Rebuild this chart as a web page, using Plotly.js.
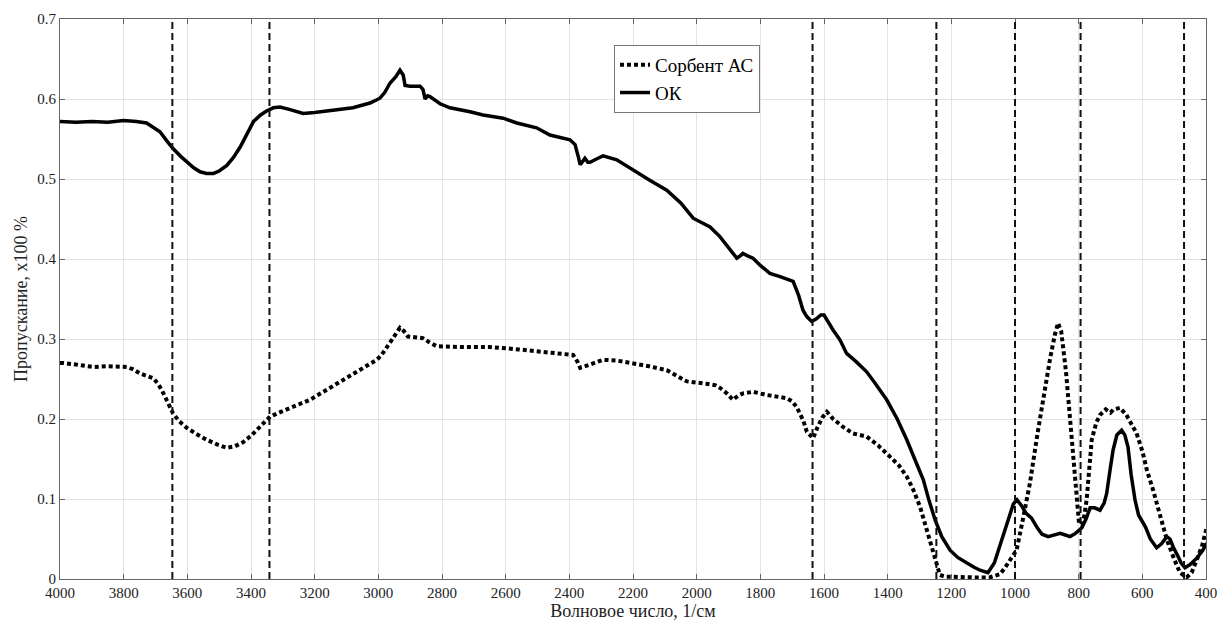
<!DOCTYPE html>
<html>
<head>
<meta charset="utf-8">
<script src="https://cdn.plot.ly/plotly-3.0.1.min.js"></script>
<style>html,body{margin:0;padding:0;background:#fff;}#chart{width:1219px;height:626px;}</style>
</head>
<body>
<div id="chart"></div>
<script>
// Wavenumbers (1/cm) and transmittance for "ОК"
const wnOK = [4000,3950,3900,3850,3800,3760,3728,3700,3686,3665,3645,3620,3602,3580,3560,3540,3518,3500,3476,3455,3434,3410,3392,3370,3351,3330,3309,3280,3250,3236,3200,3131,3080,3026,2995,2980,2963,2945,2932,2922,2916,2900,2869,2860,2853,2845,2838,2806,2775,2712,2671,2608,2565,2503,2461,2398,2382,2372,2366,2358,2351,2342,2335,2310,2294,2251,2200,2150,2094,2050,2011,1985,1958,1927,1900,1874,1863,1855,1840,1823,1800,1770,1738,1715,1697,1680,1666,1654,1639,1625,1610,1600,1585,1571,1550,1529,1500,1466,1440,1414,1403,1370,1340,1310,1288,1270,1251,1230,1204,1180,1152,1130,1110,1085,1065,1045,1020,1005,994,980,965,948,930,915,896,875,858,842,827,810,790,777,764,750,733,720,712,700,692,680,665,655,645,635,623,612,602,590,575,555,540,523,513,503,490,478,466,450,429,410,398];
const tOK = [0.572,0.571,0.572,0.571,0.573,0.572,0.570,0.563,0.559,0.548,0.538,0.528,0.522,0.514,0.509,0.507,0.507,0.510,0.517,0.527,0.540,0.558,0.572,0.580,0.585,0.589,0.590,0.587,0.583,0.582,0.583,0.586,0.589,0.595,0.601,0.608,0.620,0.628,0.636,0.630,0.617,0.616,0.616,0.612,0.600,0.604,0.603,0.594,0.589,0.584,0.580,0.576,0.570,0.564,0.555,0.549,0.543,0.528,0.518,0.522,0.526,0.521,0.521,0.526,0.529,0.524,0.511,0.499,0.486,0.470,0.451,0.445,0.440,0.428,0.414,0.401,0.404,0.407,0.404,0.401,0.392,0.382,0.378,0.374,0.372,0.355,0.336,0.328,0.322,0.325,0.330,0.330,0.320,0.311,0.299,0.282,0.272,0.259,0.245,0.230,0.224,0.200,0.174,0.145,0.124,0.098,0.074,0.053,0.036,0.027,0.020,0.015,0.011,0.008,0.020,0.045,0.075,0.094,0.099,0.092,0.082,0.076,0.064,0.056,0.053,0.055,0.057,0.055,0.053,0.057,0.064,0.075,0.089,0.089,0.086,0.095,0.107,0.140,0.161,0.180,0.186,0.180,0.165,0.130,0.099,0.080,0.074,0.065,0.050,0.039,0.044,0.053,0.050,0.040,0.030,0.020,0.014,0.018,0.026,0.036,0.045];

// Wavenumbers (1/cm) and transmittance for "Сорбент АС"
const wnAC = [4000,3990,3950,3896,3850,3790,3770,3749,3707,3690,3675,3660,3645,3625,3602,3570,3539,3505,3476,3450,3425,3400,3372,3340,3300,3267,3215,3160,3111,3060,3005,2990,2974,2950,2932,2920,2907,2880,2860,2840,2817,2743,2649,2560,2492,2420,2388,2375,2366,2350,2335,2294,2250,2200,2150,2094,2060,2031,1969,1940,1927,1905,1886,1870,1855,1823,1780,1717,1700,1686,1665,1654,1644,1634,1620,1605,1591,1571,1540,1509,1466,1430,1393,1365,1340,1320,1298,1280,1267,1249,1236,1220,1180,1130,1080,1060,1047,1030,1015,995,975,953,930,912,890,875,865,855,840,827,815,806,799,790,782,775,767,759,745,733,715,700,690,670,650,635,618,600,585,566,545,523,500,482,461,445,429,412,398];
const tAC = [0.270,0.270,0.268,0.265,0.266,0.265,0.262,0.257,0.251,0.243,0.232,0.220,0.207,0.197,0.189,0.181,0.174,0.168,0.164,0.166,0.171,0.179,0.190,0.203,0.210,0.215,0.224,0.237,0.249,0.261,0.274,0.280,0.289,0.302,0.314,0.310,0.303,0.302,0.301,0.296,0.291,0.290,0.290,0.287,0.284,0.282,0.280,0.272,0.264,0.266,0.268,0.274,0.273,0.270,0.266,0.261,0.254,0.247,0.244,0.242,0.239,0.232,0.224,0.229,0.232,0.234,0.230,0.226,0.222,0.215,0.198,0.184,0.180,0.176,0.190,0.202,0.209,0.200,0.190,0.182,0.178,0.167,0.153,0.142,0.128,0.112,0.090,0.065,0.045,0.024,0.005,0.003,0.002,0.002,0.002,0.004,0.006,0.015,0.024,0.036,0.075,0.120,0.180,0.224,0.275,0.305,0.320,0.310,0.260,0.200,0.140,0.099,0.070,0.068,0.080,0.099,0.140,0.174,0.195,0.205,0.212,0.208,0.212,0.214,0.205,0.195,0.182,0.160,0.135,0.111,0.080,0.049,0.025,0.008,0.002,0.008,0.024,0.042,0.064];

// Marked band positions (1/cm)
const markers = [3647, 3342, 1636, 1247, 1000, 794, 469];

const seriesNames = ['Сорбент АС', 'ОК'];
const xTitle = 'Волновое число, 1/см';
const yTitle = 'Пропускание, x100 %';

const FONT = "'Liberation Serif', 'Times New Roman', serif";

const traces = [
  {x: wnAC, y: tAC, name: seriesNames[0], type: 'scatter', mode: 'lines',
   line: {color: '#000', width: 4, dash: '4px,3px'}},
  {x: wnOK, y: tOK, name: seriesNames[1], type: 'scatter', mode: 'lines',
   line: {color: '#000', width: 3.5}}
];

const shapes = markers.map(m => ({
  type: 'line', xref: 'x', yref: 'paper', x0: m, x1: m, y0: 0, y1: 1,
  line: {color: '#111', width: 2, dash: '7px,4px'}, layer: 'above'
}));

const layout = {
  width: 1219, height: 626,
  margin: {l: 60, r: 13, t: 19, b: 47},
  paper_bgcolor: '#fff', plot_bgcolor: '#fff',
  font: {family: FONT, size: 15, color: '#222'},
  showlegend: true,
  legend: {x: 0.4834, y: 0.9536, xanchor: 'left', yanchor: 'top',
    bgcolor: '#fff', bordercolor: '#777', borderwidth: 1,
    font: {family: FONT, size: 19, color: '#000'}, tracegroupgap: 0},
  xaxis: {
    range: [4000, 400], dtick: 200, tick0: 400,
    showgrid: true, gridcolor: '#e3e3e3', gridwidth: 1,
    zeroline: false, showline: true, linecolor: '#666', linewidth: 1,
    mirror: 'ticks', ticks: 'inside', ticklen: 5, tickcolor: '#666',
    tickfont: {family: FONT, size: 15, color: '#222'},
    title: {text: xTitle, font: {family: FONT, size: 18, color: '#222'}, standoff: 4}
  },
  yaxis: {
    range: [0, 0.7], dtick: 0.1,
    showgrid: true, gridcolor: '#e3e3e3', gridwidth: 1,
    zeroline: false, showline: true, linecolor: '#666', linewidth: 1,
    mirror: 'ticks', ticks: 'inside', ticklen: 5, tickcolor: '#666',
    tickfont: {family: FONT, size: 15, color: '#222'},
    title: {text: yTitle, font: {family: FONT, size: 18, color: '#222'}, standoff: 4}
  },
  shapes: shapes
};

Plotly.newPlot('chart', traces, layout, {displayModeBar: false, staticPlot: true});
</script>
</body>
</html>
